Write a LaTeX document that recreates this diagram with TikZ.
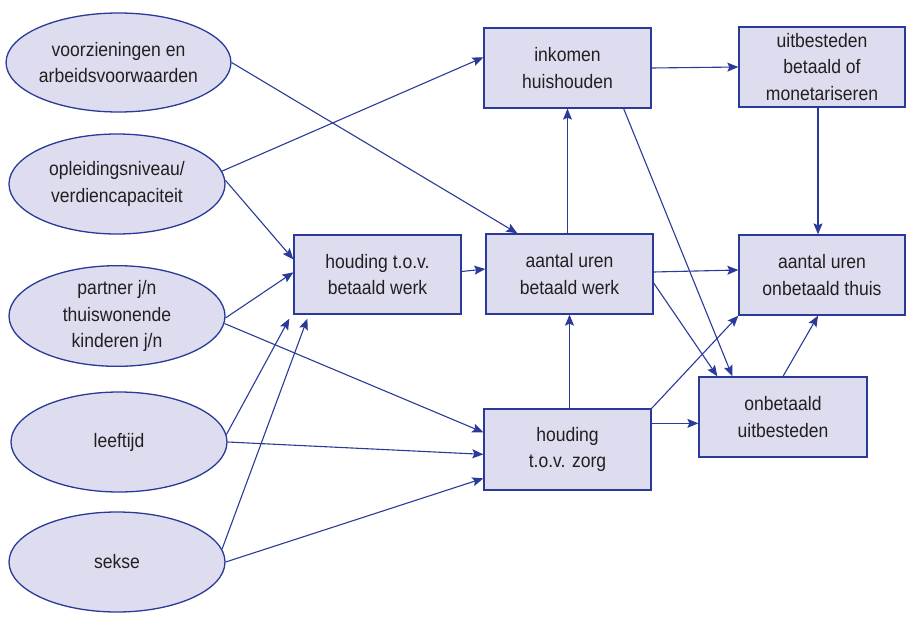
\documentclass[tikz,border=0pt]{standalone}
\usepackage{fontspec}
\setmainfont{Liberation Sans}[FakeStretch=0.9]
\usetikzlibrary{shapes.geometric,arrows.meta,calc}
\definecolor{navy}{RGB}{42,58,152}
\definecolor{lav}{RGB}{221,221,239}
\definecolor{txt}{RGB}{35,31,32}
\begin{document}
\begin{tikzpicture}[x=1pt,y=-1pt,
  every node/.style={font=\fontsize{19.5}{26.5}\selectfont, text=txt, align=center},
  ell/.style={ellipse, draw=navy, fill=lav, line width=1.3pt, minimum width=216pt, minimum height=100pt, inner sep=0pt},
  box/.style={rectangle, draw=navy, fill=lav, line width=1.3pt, minimum width=167pt, minimum height=80pt, inner sep=0pt},
  arr/.style={draw=navy, line width=1.1pt, -{Stealth[length=11pt,width=9pt,inset=2pt]}}]
\useasboundingbox (0,0) rectangle (907,634);
% ellipses
\node[ell, minimum width=217pt, minimum height=99pt] (E1) at (118.5,62.5) {voorzieningen en\\arbeidsvoorwaarden};
\node[ell] (E2) at (117,184) {opleidingsniveau/\\verdiencapaciteit};
\node[ell] (E3) at (117,316) {partner j/n\\thuiswonende\\kinderen j/n};
\node[ell] (E4) at (119,442) {leeftijd};
\node[ell] (E5) at (117,562) {sekse};
% boxes
\node[box] (IH) at (567.5,68) {inkomen\\huishouden};
\node[box, minimum width=166pt] (UB) at (822,67) {uitbesteden\\betaald of\\monetariseren};
\node[box, minimum height=79pt] (HB) at (377.5,274.5) {houding t.o.v.\\betaald werk};
\node[box] (AB) at (569.5,274) {aantal uren\\betaald werk};
\node[box, minimum width=166pt] (AO) at (822,275) {aantal uren\\onbetaald thuis};
\node[box, minimum height=81pt] (HZ) at (567.5,449.5) {houding\\t.o.v. zorg};
\node[box, minimum width=168pt] (OU) at (783,417) {onbetaald\\uitbesteden};
% connectors from ellipses
\draw[arr] (E1.east) -- ([xshift=32pt]AB.north west);
\draw[arr] (E2.7) -- ([yshift=-30pt]IH.north west);
\draw[arr] (E2.2) -- ([yshift=-25pt]HB.north west);
\draw[arr] (E3.-1) -- ([yshift=-38pt]HB.north west);
\draw[arr] (E3.-4) -- ([yshift=-24pt]HZ.north west);
\draw[arr] (E4.4) -- ([xshift=-4pt,yshift=-4pt]HB.south west);
\draw[arr] (E4.east) -- ([yshift=-46pt]HZ.north west);
\draw[arr] (E5.7) -- ([xshift=14pt,yshift=-4pt]HB.south west);
\draw[arr] (E5.east) -- ([yshift=-70pt]HZ.north west);
% connectors between boxes
\draw[arr] ([yshift=3pt]HB.east) -- ([yshift=5pt]AB.west);
\draw[arr] (IH.south |- AB.north) -- (IH.south);
\draw[arr] (AB.south |- HZ.north) -- (AB.south);
\draw[arr] (IH.east) -- (UB.west);
\draw[arr] ([xshift=-4pt]UB.south) -- ([xshift=-4pt]AO.north);
\draw[arr] ([yshift=2pt]AB.east) -- ([yshift=5pt]AO.west);
\draw[arr] ([yshift=-9pt]AB.east) -- ([xshift=19pt]OU.north west);
\draw[arr] ([xshift=-28pt]IH.south east) -- ([xshift=34pt]OU.north west);
\draw[arr] (HZ.north east) -- (AO.south west);
\draw[arr] ([yshift=-15pt]HZ.north east) coordinate (hz1) -- (hz1 -| OU.west);
\draw[arr] (OU.north) -- ([xshift=-4pt]AO.south);
\end{tikzpicture}
\end{document}
